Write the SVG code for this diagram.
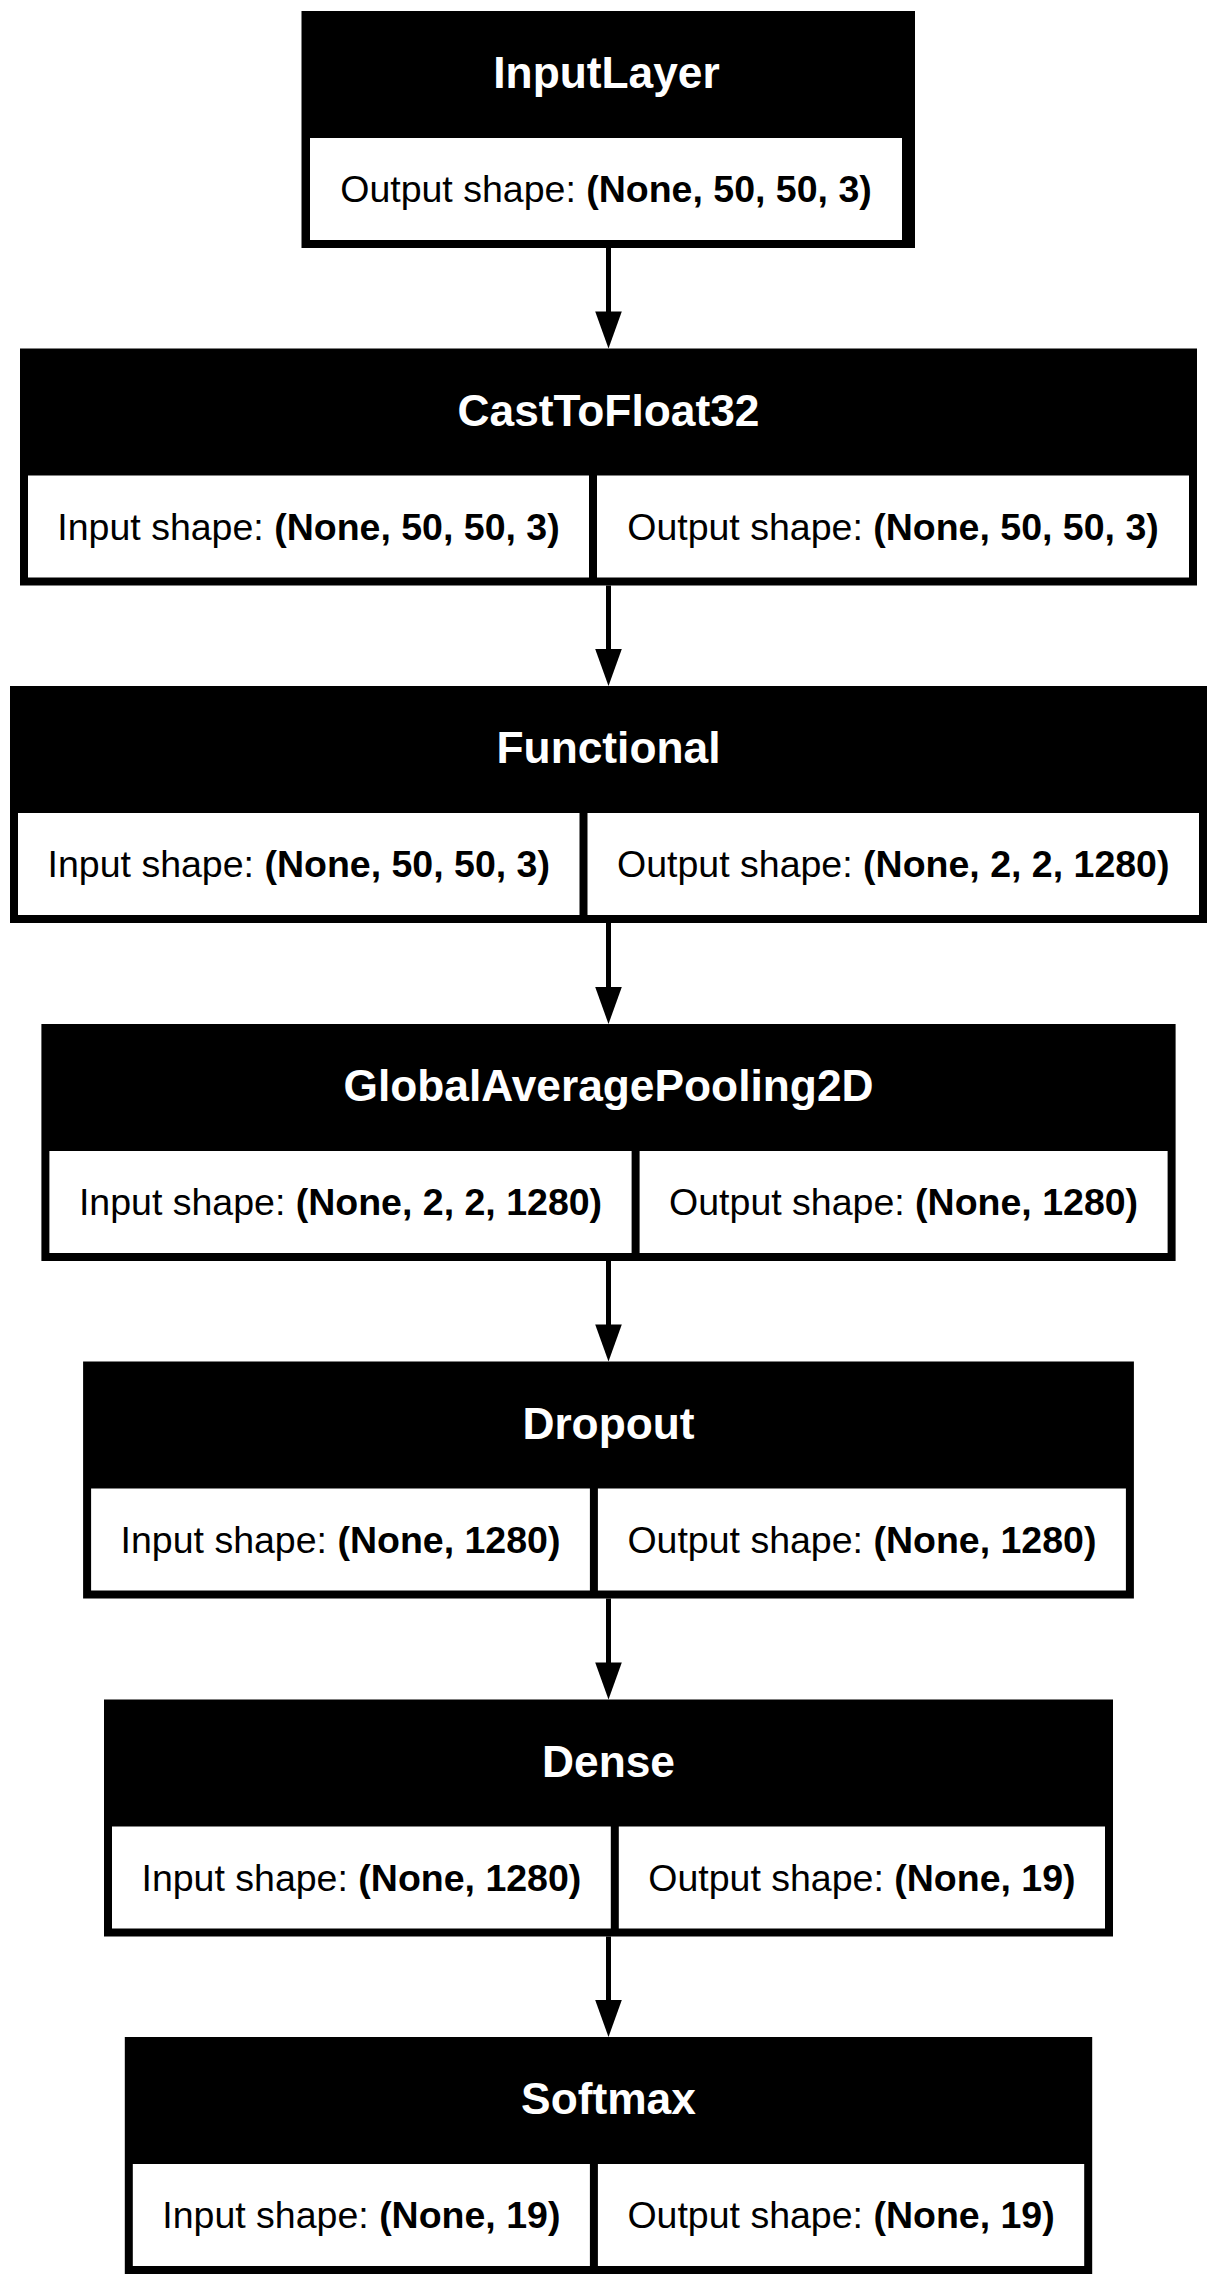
<svg xmlns="http://www.w3.org/2000/svg" width="1217" height="2285" viewBox="0 0 1217 2285">
  <style>
    .box { fill: #000; }
    .cell { fill: #fff; }
    .title { font-family: "Liberation Sans", Arial, sans-serif; font-weight: bold; font-size: 44.3px; fill: #fff; text-anchor: middle; }
    .shape { font-family: "Liberation Sans", Arial, sans-serif; font-size: 37.5px; fill: #000; text-anchor: middle; }
    .shape tspan { font-weight: bold; }
    .edge { stroke: #000; stroke-width: 5; fill: none; }
    .head { fill: #000; }
  </style>
  <rect width="1217" height="2285" fill="#fff"/>

  <!-- connectors: a vertical line and a filled arrowhead between consecutive layers -->
  <g id="connectors">
    <line class="edge" x1="608.5" y1="248" x2="608.5" y2="312"/>
    <polygon class="head" points="595.2,311.5 621.8,311.5 608.5,348.5"/>
    <line class="edge" x1="608.5" y1="585.5" x2="608.5" y2="650"/>
    <polygon class="head" points="595.2,649 621.8,649 608.5,686"/>
    <line class="edge" x1="608.5" y1="923" x2="608.5" y2="988"/>
    <polygon class="head" points="595.2,987 621.8,987 608.5,1024"/>
    <line class="edge" x1="608.5" y1="1261" x2="608.5" y2="1325.5"/>
    <polygon class="head" points="595.2,1324.5 621.8,1324.5 608.5,1361.5"/>
    <line class="edge" x1="608.5" y1="1598.5" x2="608.5" y2="1663.5"/>
    <polygon class="head" points="595.2,1662.5 621.8,1662.5 608.5,1699.5"/>
    <line class="edge" x1="608.5" y1="1936.5" x2="608.5" y2="2001"/>
    <polygon class="head" points="595.2,2000 621.8,2000 608.5,2037"/>
  </g>

  <g id="input_layer">
    <rect class="box" x="301.5" y="11" width="613.5" height="237"/>
    <text class="title" x="606.5" y="88">InputLayer</text>
    <rect class="cell" x="310" y="138" width="592" height="102"/>
    <text class="shape" x="606" y="202">Output shape: <tspan>(None, 50, 50, 3)</tspan></text>
  </g>

  <g id="cast_to_float32">
    <rect class="box" x="20" y="348.5" width="1177" height="237"/>
    <text class="title" x="608.5" y="425.5">CastToFloat32</text>
    <rect class="cell" x="28" y="475.5" width="561" height="102"/>
    <rect class="cell" x="597" y="475.5" width="592" height="102"/>
    <text class="shape" x="308.5" y="539.5">Input shape: <tspan>(None, 50, 50, 3)</tspan></text>
    <text class="shape" x="893" y="539.5">Output shape: <tspan>(None, 50, 50, 3)</tspan></text>
  </g>

  <g id="functional">
    <rect class="box" x="10" y="686" width="1197" height="237"/>
    <text class="title" x="608.5" y="763">Functional</text>
    <rect class="cell" x="18" y="813" width="561.5" height="102"/>
    <rect class="cell" x="587.5" y="813" width="611.5" height="102"/>
    <text class="shape" x="298.75" y="877">Input shape: <tspan>(None, 50, 50, 3)</tspan></text>
    <text class="shape" x="893.25" y="877">Output shape: <tspan>(None, 2, 2, 1280)</tspan></text>
  </g>

  <g id="global_average_pooling2d">
    <rect class="box" x="41.4" y="1024" width="1134.2" height="237"/>
    <text class="title" x="608.5" y="1101">GlobalAveragePooling2D</text>
    <rect class="cell" x="49.4" y="1151" width="582.2" height="102"/>
    <rect class="cell" x="639.6" y="1151" width="528" height="102"/>
    <text class="shape" x="340.5" y="1215">Input shape: <tspan>(None, 2, 2, 1280)</tspan></text>
    <text class="shape" x="903.6" y="1215">Output shape: <tspan>(None, 1280)</tspan></text>
  </g>

  <g id="dropout">
    <rect class="box" x="83.1" y="1361.5" width="1050.8" height="237"/>
    <text class="title" x="608.5" y="1438.5">Dropout</text>
    <rect class="cell" x="91.1" y="1488.5" width="498.8" height="102"/>
    <rect class="cell" x="597.9" y="1488.5" width="528" height="102"/>
    <text class="shape" x="340.5" y="1552.5">Input shape: <tspan>(None, 1280)</tspan></text>
    <text class="shape" x="861.9" y="1552.5">Output shape: <tspan>(None, 1280)</tspan></text>
  </g>

  <g id="dense">
    <rect class="box" x="104" y="1699.5" width="1009" height="237"/>
    <text class="title" x="608.5" y="1776.5">Dense</text>
    <rect class="cell" x="112" y="1826.5" width="498.8" height="102"/>
    <rect class="cell" x="618.8" y="1826.5" width="486.2" height="102"/>
    <text class="shape" x="361.4" y="1890.5">Input shape: <tspan>(None, 1280)</tspan></text>
    <text class="shape" x="861.9" y="1890.5">Output shape: <tspan>(None, 19)</tspan></text>
  </g>

  <g id="softmax">
    <rect class="box" x="124.8" y="2037" width="967.4" height="237"/>
    <text class="title" x="608.5" y="2114">Softmax</text>
    <rect class="cell" x="132.8" y="2164" width="457.1" height="102"/>
    <rect class="cell" x="597.9" y="2164" width="486.3" height="102"/>
    <text class="shape" x="361.35" y="2228">Input shape: <tspan>(None, 19)</tspan></text>
    <text class="shape" x="841.05" y="2228">Output shape: <tspan>(None, 19)</tspan></text>
  </g>
</svg>
